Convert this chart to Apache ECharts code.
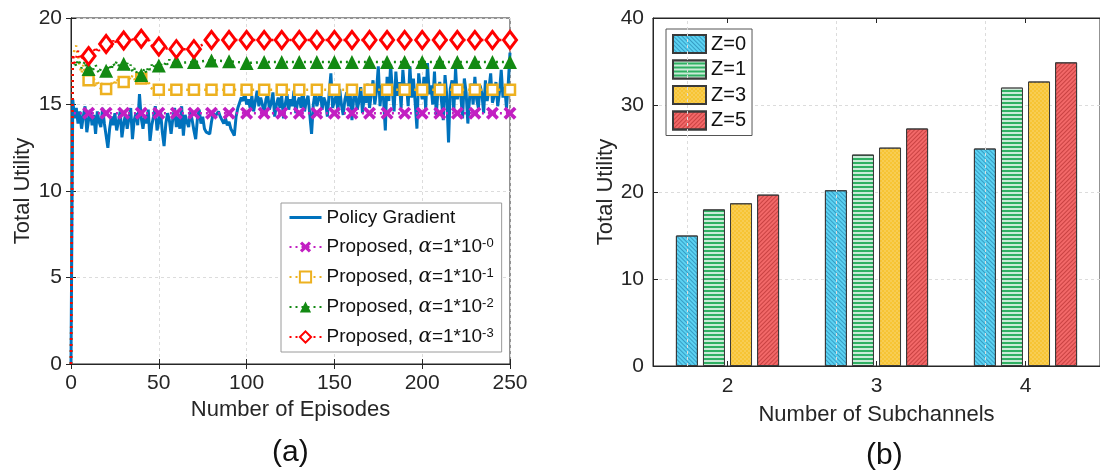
<!DOCTYPE html>
<html><head><meta charset="utf-8">
<script src="https://cdn.jsdelivr.net/npm/echarts@6/dist/echarts.min.js"></script>
<style>html,body{margin:0;padding:0;background:#fff}#c{width:1100px;height:476px}</style>
</head><body><div id="c"></div>
<script>
// ---------- (a) data ----------
const pgValues = [0,
15.3,14.2,14.8,13.9,14.6,13.6,14.3,14.9,13.4,14.1,
14.7,13.8,14.4,13.3,14.6,14.0,13.7,14.8,13.9,13.2,
12.5,13.6,14.3,13.8,14.5,13.5,14.0,14.6,13.1,13.9,
14.4,13.6,14.2,14.8,13.0,14.1,14.5,13.8,15.6,14.2,
13.6,14.4,13.9,14.7,12.9,13.8,14.3,14.9,13.5,14.0,
14.6,13.4,12.6,13.9,14.5,14.1,13.3,14.2,14.8,13.7,
14.3,13.6,14.9,13.2,14.4,14.0,13.7,14.6,14.1,13.5,
13.0,14.2,14.7,13.9,14.3,13.6,13.4,13.5,13.3,14.0,
14.5,14.3,14.4,14.6,14.3,14.1,13.9,14.2,13.8,14.0,
13.6,13.4,13.2,14.3,14.8,15.1,15.4,15.2,15.7,15.0,
15.3,14.8,15.5,14.6,15.2,15.8,14.9,15.4,15.0,14.4,
15.3,15.6,14.7,15.1,15.7,14.3,15.0,15.4,14.8,15.5,
14.2,15.0,15.6,14.7,15.3,14.9,15.8,14.5,15.1,15.4,
14.8,16.0,14.6,15.2,15.5,14.4,13.3,15.0,15.7,14.9,
15.3,15.9,14.7,15.4,15.1,14.3,15.6,16.8,14.8,15.2,
15.5,14.6,15.9,15.0,14.4,15.3,15.7,14.9,15.6,14.1,
15.4,15.8,14.7,15.2,16.0,14.5,15.5,15.1,16.2,14.8,
15.6,16.4,15.0,15.8,17.2,14.9,16.1,15.3,13.5,16.6,
15.2,17.3,15.8,14.6,16.9,15.5,16.3,14.8,17.0,15.7,
16.2,14.9,17.2,15.4,16.5,15.1,13.6,16.8,15.9,15.3,
16.6,14.7,17.4,15.6,16.1,15.0,16.9,14.4,15.8,16.3,
15.2,14.1,16.7,15.5,12.8,15.9,16.4,14.6,17.1,15.3,
16.0,15.5,14.2,16.5,15.7,13.9,15.4,16.2,15.0,16.6,
15.3,14.8,16.1,15.6,14.5,16.4,15.2,15.9,16.8,15.1,
15.5,16.3,14.9,15.7,17.0,15.4,16.0,14.8,16.2,18.0];

const alphaExp = ['-0','-1','-2','-3'];

const magEp  = [0,1,10,20,30,40,50,60,70,80,90,100,110,120,130,140,150,160,170,180,190,200,210,220,230,240,250];
const magVal = [0,14.5,14.5,14.5,14.5,14.5,14.5,14.5,14.5,14.5,14.5,14.5,14.5,14.5,14.5,14.5,14.5,14.5,14.5,14.5,14.5,14.5,14.5,14.5,14.5,14.5,14.5];

// episodes 0..60 (one value per episode), then tail episodes
const yelEarly = [0,17.6,18.2,18.4,17.8,17.2,16.8,17.3,16.6,16.9,16.4,
16.7,16.2,16.5,16.0,16.4,16.1,15.9,16.3,16.0,15.9,
16.1,15.8,16.2,16.4,16.1,16.5,16.3,16.6,16.4,16.3,
16.5,16.2,16.6,16.4,16.7,16.5,16.3,16.6,16.2,16.5,
16.3,16.6,16.1,16.4,16.0,15.9,15.85,15.85,15.85,15.85,
15.85,15.85,15.85,15.85,15.85,15.85,15.85,15.85,15.85,15.85];
const grnEarly = [0,17.3,17.5,17.2,17.6,17.4,17.1,17.3,17.5,17.0,17.05,
17.2,16.9,17.1,17.3,17.0,16.8,17.1,17.2,16.9,16.95,
17.1,17.3,17.0,17.4,17.2,17.5,17.3,17.1,17.4,17.35,
17.2,17.4,17.0,17.3,16.9,17.1,16.8,17.0,16.8,16.7,
16.9,17.1,16.8,17.2,17.0,17.3,17.1,17.4,17.2,17.25,
17.3,17.4,17.2,17.5,17.3,17.6,17.4,17.5,17.4,17.5];
const redEarly = [0,17.9,17.4,17.7,18.1,17.6,17.9,17.5,17.8,17.6,17.8,
18.0,17.7,18.2,18.0,18.3,18.1,18.4,18.3,18.5,18.5,
18.4,18.6,18.3,18.7,18.5,18.8,18.6,18.7,18.5,18.7,
18.9,18.7,18.8,18.6,18.7,18.9,18.8,18.6,18.8,18.8,
18.7,18.8,18.6,18.9,18.5,18.6,18.3,18.4,18.2,18.35,
18.3,18.25,18.2,18.25,18.2,18.2,18.25,18.2,18.2,18.2];
const tailEp  = [70,80,90,100,110,120,130,140,150,160,170,180,190,200,210,220,230,240,250];
const yelTail = [15.85,15.85,15.85,15.85,15.85,15.85,15.85,15.85,15.85,15.85,15.85,15.85,15.85,15.85,15.85,15.85,15.85,15.85,15.85];
const grnTail = [17.45,17.55,17.5,17.4,17.45,17.45,17.45,17.45,17.45,17.45,17.45,17.45,17.45,17.45,17.45,17.45,17.45,17.45,17.45];
const redTail = [18.2,18.73,18.73,18.73,18.73,18.73,18.73,18.73,18.73,18.73,18.73,18.73,18.73,18.73,18.73,18.73,18.73,18.73,18.73];

const episodeTicks = [0,50,100,150,200,250];
const utilityTicksA = [0,5,10,15,20];

// ---------- (b) data ----------
const subchannels = ['2','3','4'];
const zNames = ['Z=0','Z=1','Z=3','Z=5'];
const z0 = [15.0, 20.2, 25.0];
const z1 = [18.0, 24.3, 32.0];
const z3 = [18.7, 25.1, 32.7];
const z5 = [19.7, 27.3, 34.9];
const utilityTicksB = [0,10,20,30,40];

// ---------- build ----------
const FONT = 'Liberation Sans, Arial, sans-serif';
const AX = '#262626';
function pairs(xs, ys){ return ys.map((v,i)=>[xs[i], v]); }
function earlyTail(early, tail){
  return early.map((v,i)=>[i,v]).concat(pairs(tailEp, tail));
}
const markerSize = s => function(val){ return (val[0] % 10 === 0 && val[0] > 0) ? s : 0; };
const xPath = 'path://M0,2 L2,0 L5,3 L8,0 L10,2 L7,5 L10,8 L8,10 L5,7 L2,10 L0,8 L3,5 Z';

const propNames = alphaExp.map(e => 'Proposed, α=1*10^' + e);

const chart = echarts.init(document.getElementById('c'));
const gridStyle = {show:true, lineStyle:{color:'#dcdcdc', type:[3,3], width:1}};
const tickInside = {show:true, inside:true, length:5, lineStyle:{color:AX}};

const decals = [
  {symbol:'rect', symbolSize:1, dashArrayX:[1,0], dashArrayY:[1,2], rotation:Math.PI/4, color:'rgba(10,90,140,0.45)'},
  {symbol:'rect', symbolSize:1, dashArrayX:[1,0], dashArrayY:[1.5,1.5], rotation:0, color:'rgba(255,255,255,0.75)'},
  {symbol:'circle', symbolSize:0.8, dashArrayX:[[2,2],[0,2,2,0]], dashArrayY:[2,0], rotation:0, color:'rgba(255,255,255,0.35)'},
  {symbol:'rect', symbolSize:1, dashArrayX:[1,0], dashArrayY:[1,2], rotation:-Math.PI/4, color:'rgba(150,20,20,0.45)'}
];
const barColors = ['#5bd2f2','#2fb062','#f7c434','#f26868'];
const barVals = [z0, z1, z3, z5];

const option = {
  animation:false,
  backgroundColor:'#fff',
  textStyle:{fontFamily:FONT},
  grid:[
    {left:71, top:18, width:439, height:346, show:true, borderColor:AX, borderWidth:1, backgroundColor:'#fff'},
    {left:653, top:18, right:-8, height:348, show:true, borderColor:AX, borderWidth:1, backgroundColor:'#fff'}
  ],
  xAxis:[
    {gridIndex:0, type:'value', min:0, max:250, interval:50, name:'Number of Episodes', nameLocation:'middle', nameGap:34,
     nameTextStyle:{fontSize:22, color:AX, fontFamily:FONT},
     axisLine:{show:true, lineStyle:{color:AX}}, axisTick:tickInside,
     axisLabel:{fontSize:21, color:AX, margin:9, fontFamily:FONT}, splitLine:gridStyle},
    {gridIndex:0, type:'value', position:'top', min:0, max:250, interval:50,
     axisLine:{show:true, lineStyle:{color:AX}}, axisTick:tickInside, axisLabel:{show:false}, splitLine:{show:false}},
    {gridIndex:1, type:'category', data:subchannels, name:'Number of Subchannels', nameLocation:'middle', nameGap:38,
     nameTextStyle:{fontSize:22, color:AX, fontFamily:FONT},
     axisLine:{show:true, lineStyle:{color:AX}}, axisTick:{show:true, inside:true, length:5, alignWithLabel:true, lineStyle:{color:AX}},
     axisLabel:{fontSize:21, color:AX, margin:10, fontFamily:FONT}, splitLine:{show:false}},
    {gridIndex:1, type:'category', data:subchannels, position:'top',
     axisLine:{show:true, lineStyle:{color:AX}}, axisTick:{show:true, inside:true, length:5, alignWithLabel:true, lineStyle:{color:AX}},
     axisLabel:{show:false}, splitLine:{show:false}}
  ],
  yAxis:[
    {gridIndex:0, type:'value', min:0, max:20, interval:5, name:'Total Utility', nameLocation:'middle', nameGap:37,
     nameTextStyle:{fontSize:22, color:AX, fontFamily:FONT},
     axisLine:{show:true, lineStyle:{color:AX}}, axisTick:tickInside,
     axisLabel:{fontSize:21, color:AX, margin:9, fontFamily:FONT}, splitLine:gridStyle},
    {gridIndex:0, type:'value', position:'right', min:0, max:20, interval:5,
     axisLine:{show:true, lineStyle:{color:AX}}, axisTick:tickInside, axisLabel:{show:false}, splitLine:{show:false}},
    {gridIndex:1, type:'value', min:0, max:40, interval:10, name:'Total Utility', nameLocation:'middle', nameGap:36,
     nameTextStyle:{fontSize:22, color:AX, fontFamily:FONT},
     axisLine:{show:true, lineStyle:{color:AX}}, axisTick:tickInside,
     axisLabel:{fontSize:21, color:AX, margin:9, fontFamily:FONT}, splitLine:gridStyle}
  ],
  legend:[
    {orient:'vertical', left:281, top:203, padding:[5,8,5,7], itemGap:10, itemWidth:32, itemHeight:14,
     backgroundColor:'#fff', borderColor:'#9a9a9a', borderWidth:1, borderRadius:0,
     data:[{name:'Policy Gradient', itemStyle:{opacity:0, color:'rgba(0,0,0,0)', borderWidth:0}, lineStyle:{width:3, color:'#0072BD'}}].concat(propNames),
     formatter:function(name){
       if(name.indexOf('^')<0) return '{n|'+name+'}';
       const p = name.split('^');
       const head = p[0].replace('α=1*10','');
       return '{n|'+head+'}{a|α}{n|=1*10}{s|'+p[1]+'}';
     },
     textStyle:{fontSize:19, color:'#111', fontFamily:FONT,
       rich:{n:{fontSize:19, color:'#111', fontFamily:FONT, lineHeight:20},
             a:{fontSize:20, fontStyle:'italic', fontFamily:'DejaVu Serif', color:'#111', lineHeight:20},
             s:{fontSize:13, color:'#111', fontFamily:FONT, verticalAlign:'top', lineHeight:12}}}
    },
    {orient:'vertical', left:666, top:29, padding:[5,6,5,6], itemGap:5.5, itemWidth:33, itemHeight:18, icon:'rect',
     backgroundColor:'#fff', borderColor:'#555', borderWidth:1, borderRadius:0,
     data:zNames, textStyle:{fontSize:20, color:'#111', fontFamily:FONT, lineHeight:18}}
  ],
  series:[
    {name:'Policy Gradient', type:'line', xAxisIndex:0, yAxisIndex:0, data:pgValues.map((v,i)=>[i,v]),
     showSymbol:false, symbol:'circle', symbolSize:0, lineStyle:{color:'#0072BD', width:3}, itemStyle:{color:'#0072BD'}, z:2},
    {name:propNames[0], type:'line', xAxisIndex:0, yAxisIndex:0, data:pairs(magEp, magVal),
     symbol:xPath, symbolSize:markerSize(13), lineStyle:{color:'#c21fc2', width:2.5, type:[2,4]},
     itemStyle:{color:'#c21fc2'}, z:3},
    {name:propNames[1], type:'line', xAxisIndex:0, yAxisIndex:0, data:earlyTail(yelEarly, yelTail),
     symbol:'rect', symbolSize:markerSize(10), lineStyle:{color:'#EDB120', width:2.5, type:[2,4]},
     itemStyle:{color:'#fff', borderColor:'#EDB120', borderWidth:2.5}, z:4},
    {name:propNames[2], type:'line', xAxisIndex:0, yAxisIndex:0, data:earlyTail(grnEarly, grnTail),
     symbol:'triangle', symbolSize:markerSize(14), lineStyle:{color:'#138a13', width:2.5, type:[2,4]},
     itemStyle:{color:'#138a13'}, z:5},
    {name:propNames[3], type:'line', xAxisIndex:0, yAxisIndex:0, data:earlyTail(redEarly, redTail),
     symbol:'diamond', symbolSize:function(val){ return (val[0]%10===0 && val[0]>0) ? [13,17] : 0; },
     lineStyle:{color:'#ff0000', width:2.5, type:[2,4]},
     itemStyle:{color:'#fff', borderColor:'#ff0000', borderWidth:3}, z:6}
  ].concat(zNames.map((nm, k) => ({
     name:nm, type:'bar', xAxisIndex:2, yAxisIndex:2, data:barVals[k], barWidth:22, barGap:'23%',
     itemStyle:{color:barColors[k], borderColor:'#3a3a3a', borderWidth:1, decal:decals[k]},
     markLine: k===0 ? {silent:true, symbol:'none', label:{show:false}, lineStyle:{color:'#dcdcdc', type:[3,3], width:1},
        data: subchannels.map(s => ({xAxis:s}))} : undefined
  }))),
  graphic:[
    {type:'text', style:{text:'(a)', fontSize:30, fill:'#111', fontFamily:FONT}, left:272, top:438},
    {type:'text', style:{text:'(b)', fontSize:30, fill:'#111', fontFamily:FONT}, left:866, top:441}
  ]
};
chart.setOption(option);
</script>
</body></html>
